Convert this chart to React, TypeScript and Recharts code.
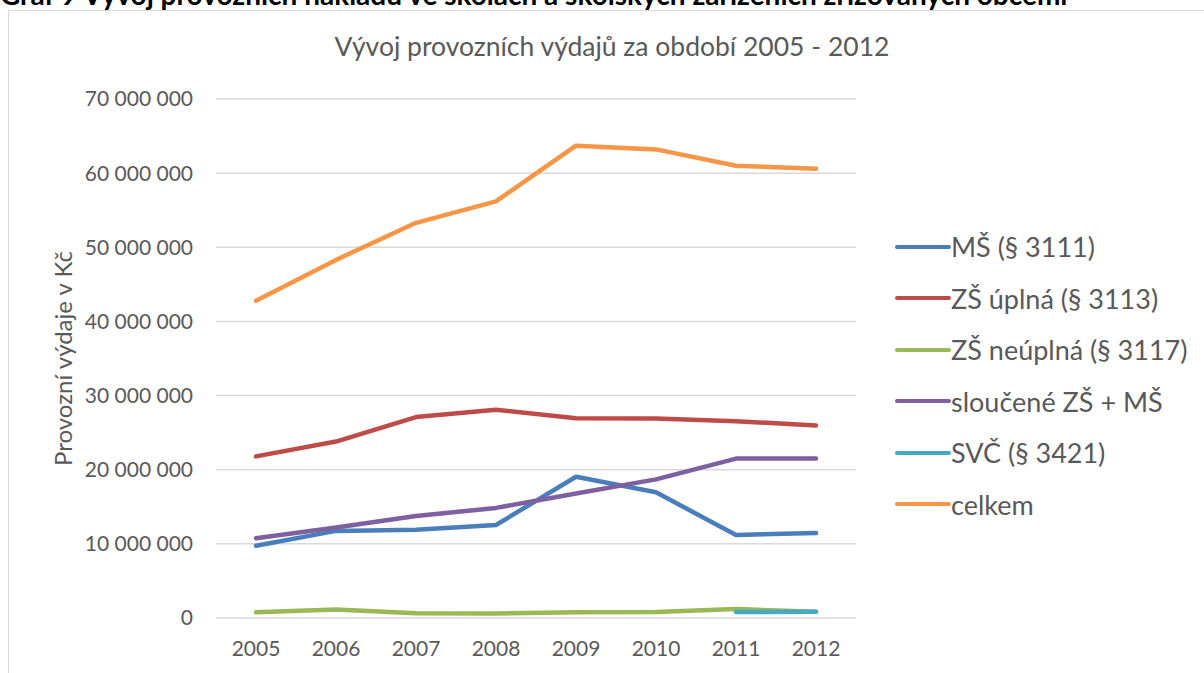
import React from 'react';
import { LineChart, Line, XAxis, YAxis, CartesianGrid, Legend } from 'recharts';

const years = ['2005', '2006', '2007', '2008', '2009', '2010', '2011', '2012'];
const ms = [9750000, 11750000, 11900000, 12550000, 19050000, 16950000, 11200000, 11450000];
const zsUplna = [21800000, 23800000, 27100000, 28100000, 26950000, 26900000, 26550000, 25950000];
const zsNeuplna = [770000, 1150000, 630000, 600000, 780000, 800000, 1200000, 850000];
const slucene = [10750000, 12200000, 13750000, 14850000, 16800000, 18700000, 21500000, 21500000];
const svc: (number | null)[] = [null, null, null, null, null, null, 800000, 850000];
const celkem = [42800000, 48300000, 53300000, 56200000, 63700000, 63200000, 61000000, 60600000];
const yTicks = [0, 10000000, 20000000, 30000000, 40000000, 50000000, 60000000, 70000000];

const seriesNames = ['MŠ (§ 3111)', 'ZŠ úplná (§ 3113)', 'ZŠ neúplná (§ 3117)', 'sloučené ZŠ + MŠ', 'SVČ (§ 3421)', 'celkem'];
const seriesColors = ['#4a7ebb', '#be4b48', '#98b954', '#7d60a0', '#46aac5', '#f79646'];
const seriesValues = [ms, zsUplna, zsNeuplna, slucene, svc, celkem];

const data = years.map((y, i) => {
  const row: Record<string, any> = { year: y };
  seriesNames.forEach((n, k) => {
    row[n] = seriesValues[k][i];
  });
  return row;
});

const FONT = 'Lato, "Open Sans", sans-serif';
const GRAY = '#595959';

const fmt = (v: number) => String(v).replace(/\B(?=(\d{3})+(?!\d))/g, ' ');

const LegendContent = () => {
  return (
    <div style={{ fontFamily: FONT }}>
      {seriesNames.map((n, i) => (
        <div key={n} style={{ display: 'flex', alignItems: 'center', height: 51.5 }}>
          <svg width={56} height={8} style={{ display: 'block' }}>
            <line x1={2} y1={4} x2={54} y2={4} stroke={seriesColors[i]} strokeWidth={4} strokeLinecap="round" />
          </svg>
          <span style={{ fontSize: 27, color: GRAY, whiteSpace: 'nowrap' }}>{n}</span>
        </div>
      ))}
    </div>
  );
};

const YLabel = (props: any) => {
  const vb = props.viewBox || { x: 0, y: 0, width: 0, height: 0 };
  const cx = vb.x - 54;
  const cy = vb.y + vb.height / 2;
  return (
    <text x={cx} y={cy} transform={`rotate(-90 ${cx} ${cy})`} textAnchor="middle" dominantBaseline="central"
      fill={GRAY} fontSize={24} fontFamily={FONT}>
      Provozní výdaje v Kč
    </text>
  );
};

export default function App() {
  return (
    <div style={{ position: 'fixed', left: 0, top: 0, width: 1204, height: 673, overflow: 'hidden', background: '#fff' }}>
      <div style={{ position: 'absolute', left: 0, top: -22, fontFamily: FONT, fontWeight: 700, fontSize: 28, color: '#000', whiteSpace: 'nowrap', lineHeight: '33px' }}>
        Graf 9 Vývoj provozních nákladů ve školách a školských zařízeních zřizovaných obcemi
      </div>
      <div style={{ position: 'absolute', left: 8, top: 10, width: 1300, height: 800, border: '1.5px solid #d9d9d9', boxSizing: 'border-box' }} />
      <div style={{ position: 'absolute', left: 0, top: 29, width: 1224, textAlign: 'center', fontFamily: FONT, fontSize: 26.5, color: GRAY, lineHeight: '34px' }}>
        Vývoj provozních výdajů za období 2005 - 2012
      </div>
      <div style={{ position: 'absolute', left: 0, top: 0 }}>
        <LineChart width={1204} height={673} data={data} margin={{ top: 99, right: 348, bottom: 15, left: 116 }}>
          <CartesianGrid vertical={false} stroke="#d9d9d9" strokeWidth={1.5} />
          <XAxis dataKey="year" axisLine={false} tickLine={false} height={40} padding={{ left: 40, right: 40 }}
            tick={{ fill: GRAY, fontSize: 21, fontFamily: FONT }} tickMargin={17} interval={0} />
          <YAxis width={100} domain={[0, 70000000]} ticks={yTicks} axisLine={false} tickLine={false} tickMargin={17}
            tickFormatter={fmt} tick={{ fill: GRAY, fontSize: 21, fontFamily: FONT }} label={<YLabel />} />
          <Legend layout="vertical" align="center" verticalAlign="middle" content={<LegendContent />}
            wrapperStyle={{ left: 895, top: 221, width: 320, height: 320 }} />
          {seriesNames.map((n, k) => (
            <Line key={n} type="linear" dataKey={n} name={n} stroke={seriesColors[k]} strokeWidth={4.5}
              dot={false} activeDot={false} isAnimationActive={false} strokeLinecap="round" strokeLinejoin="round" />
          ))}
        </LineChart>
      </div>
    </div>
  );
}
